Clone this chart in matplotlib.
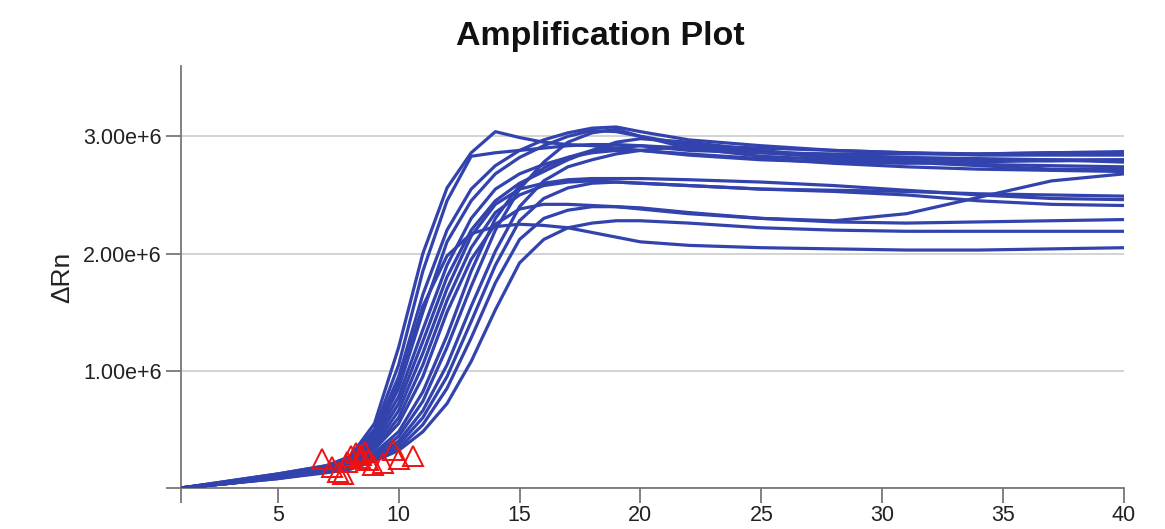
import numpy as np
import matplotlib
matplotlib.use("Agg")
import matplotlib.pyplot as plt

plt.rcParams['font.family'] = ['Liberation Sans', 'DejaVu Sans']

cycles = [1, 3, 5, 7, 8, 9, 10, 11, 12, 13, 14, 15, 16, 17, 18, 19, 20, 22, 25, 28, 31, 34, 37, 40]

# delta Rn per well, in millions
well_A = [0, .06, .12, .19, .27, .55, 1.20, 2.00, 2.56, 2.86, 3.04, 2.99, 2.95, 2.93, 2.92, 2.90, 2.88, 2.84, 2.80, 2.78, 2.77, 2.78, 2.80, 2.80]
well_B = [0, .06, .12, .19, .26, .50, 1.05, 1.85, 2.45, 2.83, 2.86, 2.88, 2.90, 2.92, 2.93, 2.93, 2.92, 2.88, 2.86, 2.85, 2.85, 2.85, 2.86, 2.86]
well_C = [0, .05, .11, .18, .25, .47, 0.95, 1.65, 2.20, 2.55, 2.75, 2.88, 2.97, 3.03, 3.07, 3.08, 3.04, 2.97, 2.92, 2.88, 2.86, 2.84, 2.84, 2.84]
well_D = [0, .05, .11, .18, .24, .44, 0.85, 1.50, 2.10, 2.45, 2.68, 2.82, 2.92, 3.00, 3.05, 3.04, 3.00, 2.93, 2.86, 2.82, 2.80, 2.79, 2.79, 2.80]
well_E = [0, .05, .11, .17, .23, .42, 0.78, 1.35, 1.90, 2.30, 2.55, 2.68, 2.76, 2.82, 2.86, 2.88, 2.88, 2.85, 2.81, 2.77, 2.74, 2.72, 2.71, 2.70]
well_F = [0, .05, .10, .17, .23, .39, 0.72, 1.25, 1.80, 2.20, 2.45, 2.60, 2.70, 2.80, 2.88, 2.95, 2.98, 2.95, 2.88, 2.82, 2.78, 2.76, 2.75, 2.74]
well_G = [0, .05, .10, .17, .22, .36, 0.66, 1.15, 1.70, 2.15, 2.42, 2.55, 2.60, 2.63, 2.64, 2.64, 2.64, 2.63, 2.61, 2.58, 2.54, 2.50, 2.47, 2.46]
well_H = [0, .05, .10, .16, .22, .34, 0.60, 1.05, 1.60, 2.05, 2.35, 2.50, 2.58, 2.61, 2.62, 2.61, 2.60, 2.58, 2.55, 2.54, 2.53, 2.51, 2.50, 2.49]
well_I = [0, .05, .10, .16, .21, .33, 0.55, 0.95, 1.50, 1.95, 2.25, 2.38, 2.42, 2.42, 2.41, 2.40, 2.38, 2.34, 2.30, 2.28, 2.34, 2.48, 2.62, 2.68]
well_J = [0, .05, .11, .17, .25, .47, 0.90, 1.55, 1.98, 2.17, 2.23, 2.25, 2.24, 2.22, 2.18, 2.14, 2.10, 2.07, 2.05, 2.04, 2.03, 2.03, 2.04, 2.05]
well_K = [0, .04, .09, .15, .20, .30, 0.48, 0.82, 1.30, 1.85, 2.30, 2.58, 2.73, 2.82, 2.88, 2.90, 2.92, 2.90, 2.87, 2.84, 2.82, 2.81, 2.80, 2.78]
well_L = [0, .04, .09, .15, .19, .28, 0.44, 0.74, 1.20, 1.72, 2.20, 2.55, 2.78, 2.95, 3.03, 3.06, 3.00, 2.90, 2.83, 2.80, 2.78, 2.75, 2.72, 2.72]
well_M = [0, .04, .09, .14, .18, .26, 0.40, 0.66, 1.05, 1.55, 2.02, 2.40, 2.62, 2.74, 2.80, 2.85, 2.88, 2.92, 2.90, 2.88, 2.86, 2.85, 2.86, 2.87]
well_N = [0, .04, .08, .14, .17, .24, 0.34, 0.54, 0.85, 1.28, 1.75, 2.12, 2.30, 2.37, 2.40, 2.40, 2.39, 2.35, 2.30, 2.27, 2.26, 2.27, 2.28, 2.29]
well_O = [0, .04, .08, .13, .16, .23, 0.32, 0.48, 0.72, 1.08, 1.52, 1.92, 2.12, 2.22, 2.26, 2.28, 2.28, 2.26, 2.22, 2.20, 2.19, 2.19, 2.19, 2.19]
well_P = [0, .04, .09, .14, .17, .25, 0.37, 0.60, 0.95, 1.42, 1.90, 2.28, 2.47, 2.56, 2.60, 2.61, 2.60, 2.58, 2.55, 2.53, 2.50, 2.45, 2.42, 2.41]
wells = [well_A, well_B, well_C, well_D, well_E, well_F, well_G, well_H,
         well_I, well_J, well_K, well_L, well_M, well_N, well_O, well_P]

# Ct markers (cycle, delta Rn in millions)
ct_x = [6.85, 7.25, 7.5, 7.7, 7.85, 8.05, 8.25, 8.4, 8.45, 8.6, 8.75, 8.95, 9.35, 9.75, 10.0, 10.6]
ct_y = [0.25, 0.18, 0.14, 0.12, 0.22, 0.27, 0.30, 0.26, 0.28, 0.31, 0.24, 0.20, 0.21, 0.32, 0.25, 0.27]

fig = plt.figure(figsize=(11.65, 5.29), dpi=100)
ax = fig.add_axes([0.1554, 0.0775, 0.8094, 0.7977])

for w in wells:
    ax.plot(cycles, np.array(w) * 1e6, color='#3343ad', lw=2.3, zorder=3)

ax.plot(ct_x, np.array(ct_y) * 1e6, ls='none', marker='^', ms=14, mfc='none',
        mec='#ee1111', mew=1.4, zorder=4)

ax.set_xlim(1, 40)
ax.set_ylim(0, 3.6e6)

ax.set_xticks([1, 5, 10, 15, 20, 25, 30, 35, 40])
ax.set_xticklabels(['', '5', '10', '15', '20', '25', '30', '35', '40'])
ax.set_xticks([10, 20, 30, 40], minor=True)
ax.set_yticks([0, 1e6, 2e6, 3e6])
ax.set_yticklabels(['', '1.00e+6', '2.00e+6', '3.00e+6'])

ax.tick_params(axis='both', which='major', length=11, width=1.3, color='#777777',
               labelsize=15.5, labelcolor='#222222')
ax.tick_params(axis='x', which='major', pad=1)
ax.tick_params(axis='y', which='major', pad=3)
ax.tick_params(axis='x', which='minor', length=0)

ax.grid(axis='x', which='minor', color='#c8c8c8', lw=1.1)
ax.grid(axis='y', which='major', color='#c8c8c8', lw=1.1)
ax.set_axisbelow(True)

for s in ['top', 'right']:
    ax.spines[s].set_visible(False)
for s in ['left', 'bottom']:
    ax.spines[s].set_color('#777777')
    ax.spines[s].set_linewidth(1.3)

ax.set_ylabel('ΔRn', fontsize=19, color='#222222', labelpad=6)
fig.text(0.515, 0.931, 'Amplification Plot', ha='center', va='center',
         fontsize=24.5, fontweight='bold', color='#111111')

fig.savefig('out.png', dpi=100)
